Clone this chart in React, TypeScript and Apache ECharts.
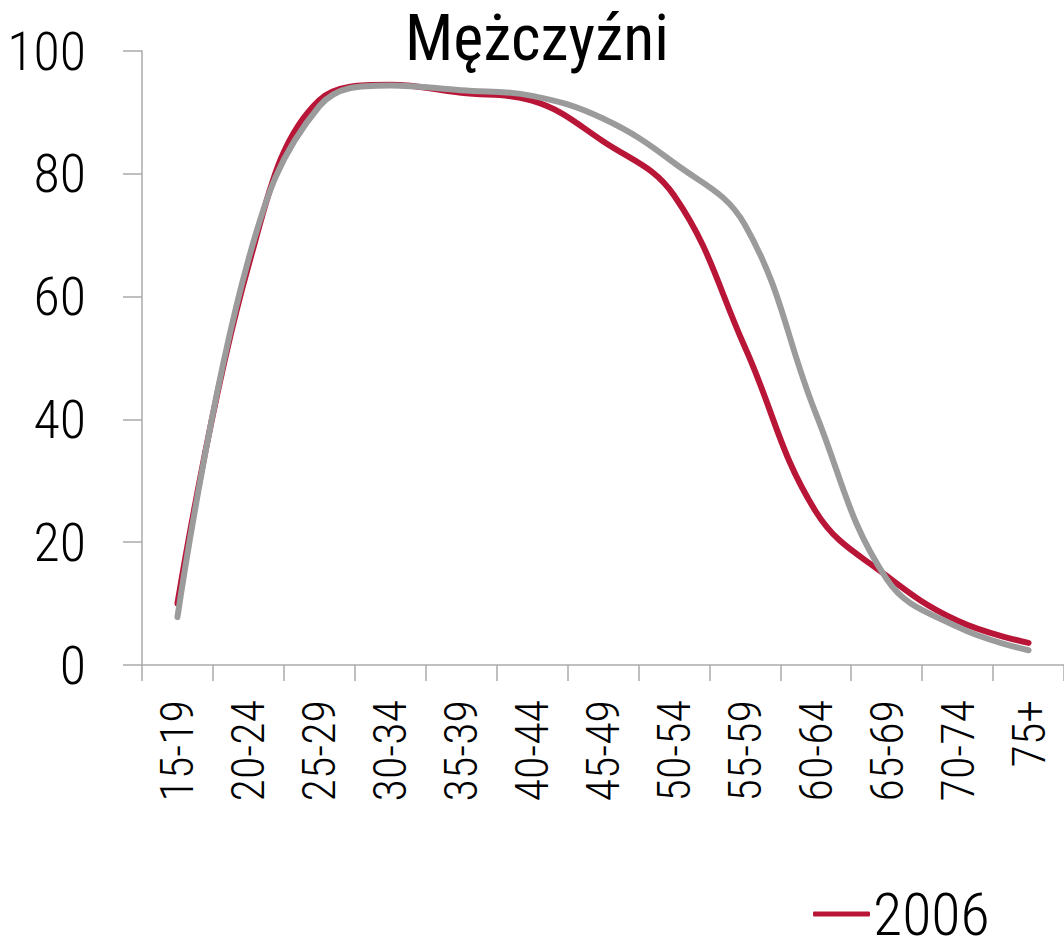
import React, { useEffect, useRef } from "react";
import * as echarts from "echarts";

const categories = ["15-19", "20-24", "25-29", "30-34", "35-39", "40-44", "45-49", "50-54", "55-59", "60-64", "65-69", "70-74", "75+"];
const series2006 = [10, 65, 92, 94.5, 93.2, 91.9, 85.3, 76.5, 51.8, 25, 14.5, 7.2, 3.6];
const seriesOther = [7.8, 66, 91, 94.4, 93.6, 92.7, 89, 81.8, 71.7, 41, 14, 6.2, 2.4];
const yTicks = { min: 0, max: 100, interval: 20 };
const title = "Mężczyźni";
const legendName = "2006";
const otherName = "Seria 2";

const FONT = "'Roboto Condensed', 'Liberation Sans Narrow', 'DejaVu Sans Condensed', sans-serif";
const AXIS = "#aaaaaa";

export default function App() {
  const ref = useRef<HTMLDivElement>(null);
  useEffect(() => {
    if (!ref.current) return;
    const chart = echarts.init(ref.current, undefined, { renderer: "svg" });
    chart.setOption({
      animation: false,
      backgroundColor: "#ffffff",
      textStyle: { fontFamily: FONT },
      title: {
        text: title,
        left: 537,
        textAlign: "center",
        top: 10,
        padding: [0, 0, 0, 0],
        textStyle: { fontFamily: FONT, fontSize: 64, lineHeight: 56, fontWeight: "normal", color: "#000" },
      },
      legend: {
        data: [{ name: legendName, icon: "roundRect" }],
        left: 813,
        top: 884,
        padding: 0,
        itemWidth: 57,
        itemHeight: 5,
        itemGap: 10,
        textStyle: { fontFamily: FONT, fontSize: 60, lineHeight: 50, fontWeight: 300, color: "#000", padding: [0, 0, 0, -2] },
      },
      grid: { left: 142, right: 0, top: 51, bottom: 275, containLabel: false, outerBoundsMode: "none" },
      xAxis: {
        type: "category",
        data: categories,
        boundaryGap: true,
        axisLine: { show: true, lineStyle: { color: AXIS, width: 1.5 } },
        axisTick: { show: true, length: 16, alignWithLabel: false, lineStyle: { color: AXIS, width: 1.5 } },
        axisLabel: { rotate: 90, margin: 35, fontFamily: FONT, fontSize: 46, fontWeight: 300, color: "#000", interval: 0, overflow: "none" },
        splitLine: { show: false },
      },
      yAxis: {
        type: "value",
        min: yTicks.min,
        max: yTicks.max,
        interval: yTicks.interval,
        axisLine: { show: true, lineStyle: { color: AXIS, width: 1.5 } },
        axisTick: { show: true, length: 19, lineStyle: { color: AXIS, width: 1.5 } },
        axisLabel: { margin: 56, fontFamily: FONT, fontSize: 54, fontWeight: 300, color: "#000" },
        splitLine: { show: false },
      },
      series: [
        {
          name: legendName,
          type: "line",
          data: series2006,
          smooth: 0.4,
          symbol: "none",
          lineStyle: { color: "#B81537", width: 6, cap: "round" },
          itemStyle: { color: "#B81537" },
          z: 2,
        },
        {
          name: otherName,
          type: "line",
          data: seriesOther,
          smooth: 0.4,
          symbol: "none",
          lineStyle: { color: "#9b9b9b", width: 6, cap: "round" },
          itemStyle: { color: "#9b9b9b" },
          z: 3,
        },
      ],
    });
    return () => chart.dispose();
  }, []);
  return <div ref={ref} style={{ position: "fixed", left: 0, top: 0, width: 1064, height: 940 }} />;
}
